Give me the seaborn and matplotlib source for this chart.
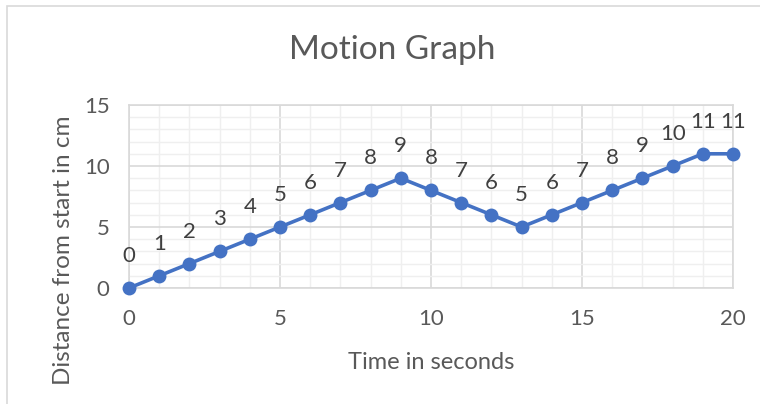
import matplotlib
matplotlib.use("Agg")
import matplotlib.pyplot as plt
from matplotlib.patches import Rectangle
from matplotlib.ticker import MultipleLocator
import seaborn as sns
import pandas as pd

time_s = list(range(21))
distance_cm = [0, 1, 2, 3, 4, 5, 6, 7, 8, 9, 8, 7, 6, 5, 6, 7, 8, 9, 10, 11, 11]

sns.set_theme(style="white")
plt.rcParams["font.family"] = ["Lato", "DejaVu Sans"]

TEXT = "#595959"
LINE = "#4472C4"

df = pd.DataFrame({"Time": time_s, "Distance": distance_cm})

fig = plt.figure(figsize=(7.6, 4.04), dpi=100)
ax = fig.add_axes([129 / 760, 1 - 288 / 404, (733 - 129) / 760, (288 - 105) / 404])

# outer chart frame
fig.patches.append(Rectangle((6.5 / 760, -0.1), 1.2, 1.1 - 6.5 / 404,
                             transform=fig.transFigure, fill=False,
                             edgecolor="#D9D9D9", linewidth=1.2))

sns.lineplot(data=df, x="Time", y="Distance", ax=ax, color=LINE, linewidth=2.6,
             marker="o", markersize=10, markeredgewidth=0, clip_on=False, zorder=5)

for x, y in zip(time_s, distance_cm):
    ax.annotate(str(y), (x, y), xytext=(0, 23), textcoords="offset points",
                ha="center", va="center", fontsize=16, color="#404040")

ax.set_xlim(0, 20)
ax.set_ylim(0, 15)
ax.xaxis.set_major_locator(MultipleLocator(5))
ax.xaxis.set_minor_locator(MultipleLocator(1))
ax.yaxis.set_major_locator(MultipleLocator(5))
ax.yaxis.set_minor_locator(MultipleLocator(1))
ax.grid(which="major", color="#D9D9D9", linewidth=1.2)
ax.grid(which="minor", color="#EFEFEF", linewidth=1.0)
ax.set_axisbelow(True)
for s in ax.spines.values():
    s.set_color("#D9D9D9")
    s.set_linewidth(1.2)

ax.tick_params(which="both", length=0, labelsize=16, labelcolor=TEXT)
ax.tick_params(axis="x", pad=15)
ax.tick_params(axis="y", pad=14)

ax.set_xlabel("Time in seconds", fontsize=17, color=TEXT, labelpad=17)
ax.set_ylabel("Distance from start in cm", fontsize=17.5, color=TEXT)
ax.yaxis.set_label_coords(-0.091, 0.208)
fig.text(392 / 760, 1 - 50 / 404, "Motion Graph", ha="center", va="center",
         fontsize=24, color=TEXT)

fig.savefig("out.png", dpi=100)
